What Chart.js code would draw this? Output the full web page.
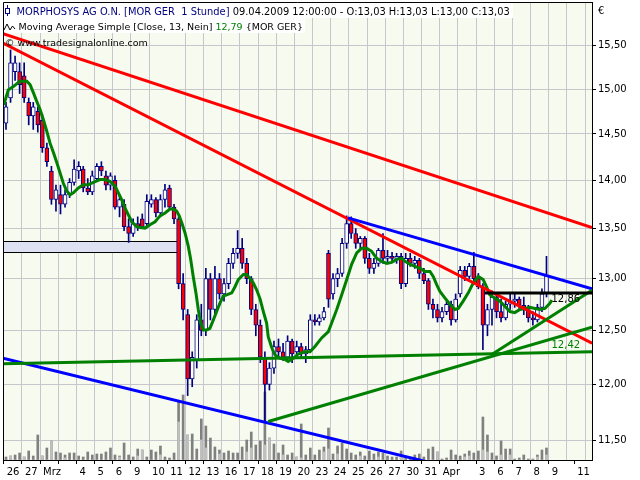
<!DOCTYPE html>
<html><head><meta charset="utf-8">
<script src="https://cdn.jsdelivr.net/npm/chart.js@4/dist/chart.umd.min.js"></script>
<style>html,body{margin:0;padding:0;background:#fff;}canvas{display:block;}</style>
</head><body>
<canvas id="c" width="640" height="480"></canvas>
<script>
// ---------- axis (trading days) ----------
const dayTickPos = [0,1,2,3,4,5,6,7,8,9,10,11,12,13,14,15,16,17,18,19,20,21,22,23,24,25,26,27,28,29,30,31,32,31.4];
const dayLabels  = ['26','27','Mrz','','4','5','6','9','10','11','12','13','16','17','18','19','20','23','24','25','26','27','30','31','Apr','','3','6','7','8','9','','','11'];
const priceTicks = [11.5,12.0,12.5,13.0,13.5,14.0,14.5,15.0,15.5];
const BARS_PER_DAY = 4;

// ---------- hourly candles (MOR GER) ----------
const open  = [14.62,14.90,15.20,15.20,15.15,14.85,14.70,14.75,14.65,14.35,14.10,13.80,13.85,13.75,13.85,13.98,14.10,14.12,13.92,13.88,
               14.02,14.15,14.05,13.95,14.00,13.72,13.75,13.52,13.45,13.55,13.60,13.55,13.75,13.80,13.66,13.80,13.92,13.72,13.60,12.95,
               12.65,12.05,12.22,12.60,12.50,13.00,12.70,13.00,12.85,12.95,13.15,13.25,13.30,13.15,13.00,12.70,12.55,12.25,12.00,12.15,
               12.35,12.30,12.25,12.40,12.30,12.35,12.28,12.32,12.60,12.58,12.62,13.25,12.85,13.00,13.05,13.35,13.55,13.45,13.35,13.40,
               13.20,13.10,13.15,13.28,13.20,13.22,13.20,13.22,12.95,13.20,13.15,13.18,13.05,12.98,12.75,12.70,12.62,12.68,12.75,12.60,
               12.85,13.08,13.02,13.12,13.00,12.92,12.55,12.70,12.82,12.68,12.62,12.75,12.78,12.80,12.74,12.70,12.62,12.60,12.72,12.85];
const high  = [14.85,15.45,15.38,15.30,15.30,14.90,14.85,14.80,14.72,14.40,14.15,13.95,13.95,13.90,14.02,14.22,14.20,14.15,14.02,14.10,
               14.18,14.20,14.10,14.08,14.05,13.85,13.80,13.60,13.60,13.62,13.65,13.85,13.85,13.82,13.85,13.96,13.95,13.75,13.62,13.05,
               12.70,12.30,12.65,12.75,13.10,13.05,13.12,13.05,13.00,13.20,13.30,13.48,13.40,13.20,13.02,12.75,12.60,12.30,12.20,12.40,
               12.42,12.38,12.45,12.42,12.40,12.38,12.35,12.65,12.65,12.65,12.72,13.28,13.05,13.10,13.40,13.63,13.62,13.50,13.42,13.42,
               13.25,13.20,13.30,13.45,13.28,13.26,13.25,13.25,13.25,13.25,13.22,13.20,13.10,13.00,12.80,12.75,12.72,12.78,12.78,12.85,
               13.12,13.12,13.15,13.26,13.05,12.95,12.75,12.88,12.85,12.80,12.78,12.85,12.85,12.82,12.82,12.74,12.68,12.75,12.90,13.22];
const low   = [14.55,14.85,15.10,14.95,14.85,14.60,14.55,14.52,14.30,14.15,13.75,13.68,13.65,13.72,13.82,13.95,14.02,13.88,13.85,13.85,
               14.00,14.05,13.90,13.90,13.70,13.62,13.48,13.36,13.42,13.48,13.50,13.52,13.72,13.62,13.62,13.72,13.70,13.55,12.90,12.60,
               11.90,11.98,12.15,12.45,12.45,12.60,12.65,12.80,12.78,12.90,13.10,13.20,13.10,12.95,12.65,12.45,12.20,11.67,11.95,12.10,
               12.25,12.22,12.22,12.20,12.25,12.25,12.20,12.30,12.55,12.55,12.60,12.72,12.80,12.92,13.02,13.30,13.40,13.30,13.30,13.15,
               13.05,13.05,13.12,13.15,13.15,13.17,13.15,12.90,12.92,13.12,13.10,13.00,12.95,12.70,12.62,12.58,12.58,12.65,12.55,12.58,
               12.82,12.98,13.00,12.95,12.90,12.32,12.45,12.55,12.62,12.58,12.60,12.70,12.72,12.70,12.65,12.58,12.55,12.58,12.68,12.82];
const close = [14.80,15.30,15.30,15.05,14.90,14.70,14.80,14.60,14.35,14.20,13.80,13.90,13.75,13.85,13.98,14.12,14.15,13.92,13.88,14.05,
               14.15,14.10,13.95,14.05,13.72,13.80,13.52,13.45,13.55,13.52,13.52,13.78,13.80,13.66,13.80,13.90,13.72,13.60,12.95,12.70,
               12.05,12.25,12.60,12.50,13.00,12.70,13.00,12.85,12.95,13.15,13.25,13.30,13.15,13.00,12.70,12.55,12.25,12.00,12.15,12.35,
               12.30,12.25,12.40,12.28,12.35,12.28,12.32,12.60,12.58,12.62,12.68,12.80,13.00,13.05,13.35,13.55,13.45,13.35,13.40,13.20,
               13.10,13.15,13.28,13.20,13.22,13.20,13.22,12.95,13.20,13.15,13.18,13.05,12.98,12.75,12.70,12.62,12.68,12.75,12.60,12.80,
               13.08,13.02,13.12,13.00,12.92,12.55,12.70,12.82,12.68,12.62,12.75,12.78,12.80,12.74,12.70,12.62,12.60,12.72,12.85,13.03];
// volume (thousand shares): total and light (lower) part
const volTotal = [3,4,5,7,3,9,4,25,4,12, 19,8,7,5,7,7,4,3,8,5, 6,6,8,12,5,4,17,5,3,11, 10,3,10,8,14,3,2,7,59,65,
                  25,26,11,41,34,22,13,10,7,9, 7,7,13,20,28,15,19,68,22,16, 7,15,5,7,3,36,5,12,5,10, 13,32,6,14,17,11,7,5,8,4,
                  9,6,8,7,4,3,3,9,3,2, 5,6,3,11,13,8,1,2,10,5, 4,6,9,7,9,43,25,7,4,19, 11,11,1,2,5,1,1,5,10,12];
const volLight = [0,4,0,0,3,0,0,0,4,0, 19,0,0,2,0,0,0,0,0,0, 0,0,0,0,0,3,0,0,0,4, 10,0,0,0,5,0,0,0,38,0,
                  25,0,0,20,12,0,0,6,0,0, 0,0,0,8,12,0,0,15,22,0, 0,5,0,0,3,2,0,0,0,0, 8,11,0,6,0,0,0,0,4,0,
                  0,0,3,0,0,0,0,3,0,0, 0,0,0,0,0,8,0,0,0,0, 0,3,4,0,0,10,8,0,0,5, 0,5,0,0,0,0,0,3,0,5];

// ---------- Moving Average Simple [Close, 13] ----------
const smaDay = [0,0.25,0.53,0.90,1.27,1.45,1.63,1.82,2.0,2.18,2.37,2.55,2.73,2.92,3.10,3.28,3.47,3.65,3.83,4.11,
  4.38,4.66,4.93,5.30,5.57,5.85,6.13,6.31,6.49,6.68,6.86,7.05,7.32,7.50,7.78,8.05,8.33,8.60,8.88,9.15,
  9.33,9.52,9.66,9.80,9.98,10.16,10.29,10.43,10.58,10.71,10.84,10.99,11.17,11.35,11.54,11.72,11.90,12.09,12.27,12.55,
  12.73,12.91,13.19,13.37,13.56,13.74,13.92,14.11,14.29,14.47,14.56,14.75,14.93,15.21,15.48,15.66,15.94,16.21,16.58,16.86,
  17.13,17.50,17.87,18.05,18.33,18.60,18.88,19.15,19.43,19.70,19.98,20.25,20.53,20.80,21.08,21.35,21.63,21.91,22.09,22.37,
  22.64,22.92,23.19,23.46,23.64,23.83,24.01,24.29,24.56,24.84,25.02,25.29,25.57,25.84,26.12,26.39,26.57,26.76,27.03,27.31,
  27.59,27.86,28.13,28.41,28.69,28.96,29.24,29.51,29.79,30.06,30.17];
const smaVal = [14.82,14.99,15.03,15.09,15.09,15.05,14.96,14.86,14.77,14.66,14.53,14.40,14.30,14.19,14.08,13.97,13.89,13.85,13.87,13.92,
  13.955,13.955,13.98,14.01,14.01,13.99,13.94,13.87,13.80,13.71,13.64,13.57,13.52,13.51,13.505,13.54,13.57,13.63,13.66,13.70,
  13.70,13.68,13.63,13.56,13.455,13.32,13.19,13.02,12.86,12.70,12.57,12.505,12.505,12.52,12.60,12.68,12.76,12.83,12.84,12.86,
  12.92,12.99,13.04,13.04,13.0,12.955,12.89,12.80,12.68,12.57,12.44,12.34,12.27,12.24,12.23,12.21,12.24,12.28,12.30,12.30,
  12.35,12.43,12.49,12.57,12.70,12.84,12.99,13.14,13.255,13.30,13.30,13.27,13.20,13.17,13.15,13.16,13.19,13.20,13.17,13.14,
  13.12,13.10,13.07,13.07,13.02,12.94,12.875,12.81,12.75,12.70,12.71,12.78,12.86,12.955,13.02,12.99,12.92,12.84,12.81,12.78,
  12.73,12.68,12.67,12.70,12.71,12.72,12.71,12.70,12.71,12.76,12.79];

// ---------- drawn trendlines: [day, price] endpoints ----------
const redUpper   = [[-0.04,15.64],[32.38,13.51]];
const redLower   = [[-0.04,15.53],[32.38,12.38]];
const blueUpper  = [[18.95,13.61],[32.38,12.90]];
const blueLower  = [[-0.04,12.24],[32.38,10.98]];
const greenFlat  = [[-0.04,12.19],[32.38,12.30]];
const greenRise  = [[14.56,11.67],[32.38,12.53]];
const greenSteep = [[26.82,12.27],[32.38,12.885]];
const blackLevel = [[26.49,12.86],[32.38,12.86]];
const levelLabels = [[12.86,'12,86','#000000'],[12.42,'12,42','#008000']];
const zoneBox = {d0:-0.04, d1:9.59, p0:13.26, p1:13.37};

const X_MIN = -0.04, X_MAX = 32.38, Y_MIN = 11.335, Y_MAX = 16.02, VOL_MAX = 458;
const NAVY = '#000080', PLOT_BG = '#f7faef', GRID = '#c6c6cc';

const barX = open.map((_, i) => Math.floor(i / BARS_PER_DAY) + ((i % BARS_PER_DAY) + 0.5) / BARS_PER_DAY);
const wickData = barX.map((x, i) => ({x, y: [low[i], high[i]]}));
const bodyData = barX.map((x, i) => ({x, y: [Math.min(open[i], close[i]), Math.max(open[i], close[i])]}));
const bodyColors = open.map((o, i) => close[i] < o ? '#ff0000' : '#ffffff');
const volData = barX.map((x, i) => ({x, y: volTotal[i]}));
const volLightData = barX.map((x, i) => ({x, y: volLight[i]}));
const smaData = smaDay.map((d, i) => ({x: d, y: smaVal[i]}));
const seg = s => s.map(p => ({x: p[0], y: p[1]}));

function lineDs(pts, color, order) {
  return {type: 'line', data: seg(pts), borderColor: color, borderWidth: 3, pointRadius: 0,
          fill: false, tension: 0, order, yAxisID: 'y', xAxisID: 'x'};
}

function drawRuns(ctx, runs, x, yBase, targetW) {
  const fam = '"DejaVu Sans", sans-serif';
  ctx.font = '11px ' + fam;
  const w = ctx.measureText(runs.map(r => r[0]).join('')).width;
  const size = 11 * targetW / w;
  ctx.font = size.toFixed(2) + 'px ' + fam;
  ctx.textBaseline = 'alphabetic'; ctx.textAlign = 'left';
  let cx = x;
  for (const [t, c] of runs) { ctx.fillStyle = c; ctx.fillText(t, cx, yBase); cx += ctx.measureText(t).width; }
}

const decor = {
  id: 'decor',
  beforeDraw(chart) {
    const {ctx, chartArea: a} = chart;
    ctx.save();
    ctx.fillStyle = '#ffffff'; ctx.fillRect(0, 0, chart.width, chart.height);
    ctx.fillStyle = PLOT_BG; ctx.fillRect(a.left, a.top, a.right - a.left, a.bottom - a.top);
    ctx.restore();
  },
  beforeDatasetsDraw(chart) {
    const {ctx} = chart, xs = chart.scales.x, ys = chart.scales.y;
    ctx.save();
    ctx.fillStyle = '#ffffff';
    ctx.fillRect(3, 3, 510, 15);
    ctx.fillRect(3, 18, 302, 15);
    const x0 = xs.getPixelForValue(zoneBox.d0), x1 = xs.getPixelForValue(zoneBox.d1);
    const y0 = ys.getPixelForValue(zoneBox.p1), y1 = ys.getPixelForValue(zoneBox.p0);
    ctx.fillStyle = '#dde1f1';
    ctx.fillRect(x0, Math.round(y0), x1 - x0, Math.round(y1) - Math.round(y0));
    ctx.strokeStyle = '#000'; ctx.lineWidth = 1;
    ctx.strokeRect(Math.round(x0) + 0.5, Math.round(y0) + 0.5, Math.round(x1 - x0), Math.round(y1) - Math.round(y0));
    ctx.restore();
  },
  afterDatasetsDraw(chart) {
    const {ctx, chartArea: a} = chart, xs = chart.scales.x, ys = chart.scales.y;
    ctx.save();
    ctx.strokeStyle = '#000'; ctx.lineWidth = 1;
    ctx.beginPath();
    ctx.moveTo(a.left + 0.5, a.bottom); ctx.lineTo(a.left + 0.5, a.top + 0.5); ctx.lineTo(a.right, a.top + 0.5);
    ctx.stroke();
    ctx.strokeStyle = NAVY; ctx.lineWidth = 1;
    ctx.beginPath(); ctx.moveTo(7.5, 5); ctx.lineTo(7.5, 16); ctx.stroke();
    ctx.fillStyle = '#fff'; ctx.fillRect(5.5, 8.5, 4, 5); ctx.strokeRect(5.5, 8.5, 4, 5);
    drawRuns(ctx, [['MORPHOSYS AG O.N. [MOR GER  1 Stunde]', NAVY],
                   [' 09.04.2009 12:00:00 - O:13,03 H:13,03 L:13,00 C:13,03', '#000']], 16.5, 15, 493.5);
    ctx.strokeStyle = '#000'; ctx.lineWidth = 1;
    ctx.beginPath(); ctx.moveTo(4, 30); ctx.lineTo(7, 24); ctx.lineTo(10, 30); ctx.lineTo(12.5, 26); ctx.lineTo(15, 29); ctx.stroke();
    drawRuns(ctx, [['Moving Average Simple [Close, 13, Nein] ', '#000'], ['12,79', '#008000'], [' {MOR GER}', '#000']], 18.5, 30, 284.5);
    drawRuns(ctx, [['\u00A9 www.tradesignalonline.com', '#000']], 5, 45.5, 143);
    ctx.font = '10px "DejaVu Sans", sans-serif'; ctx.fillStyle = '#000'; ctx.textBaseline = 'middle';
    ctx.fillText('\u20AC', 598, 11);
    const lx = xs.getPixelForValue(barX[barX.length - 1]) + 5;
    ctx.textBaseline = 'top';
    for (const [v, t, c] of levelLabels) {
      ctx.fillStyle = c; ctx.fillText(t, lx, ys.getPixelForValue(v) + 1.5);
    }
    ctx.restore();
  }
};

const axisFont = {family: '"DejaVu Sans", sans-serif', size: 10};

new Chart(document.getElementById('c'), {
  data: {
    datasets: [
      lineDs(blackLevel, '#000000', 0),
      lineDs(greenSteep, '#008000', 1),
      lineDs(greenRise, '#008000', 1),
      lineDs(greenFlat, '#008000', 1),
      lineDs(blueLower, '#0000ff', 2),
      lineDs(blueUpper, '#0000ff', 2),
      lineDs(redLower, '#ff0000', 2),
      lineDs(redUpper, '#ff0000', 2),
      {type: 'line', data: smaData, borderColor: '#008000', borderWidth: 3, pointRadius: 0, fill: false, tension: 0, order: 4},
      {type: 'bar', data: bodyData, backgroundColor: bodyColors, borderColor: NAVY, borderWidth: 1, borderSkipped: false,
       grouped: false, barThickness: 4, maxBarThickness: 4, minBarLength: 1, order: 5, yAxisID: 'y'},
      {type: 'bar', data: wickData, backgroundColor: NAVY, borderWidth: 0, grouped: false, barThickness: 1, maxBarThickness: 1, order: 6, yAxisID: 'y'},
      {type: 'bar', data: volLightData, backgroundColor: '#c0c0c0', borderWidth: 0, grouped: false, barThickness: 2, maxBarThickness: 2, order: 7, yAxisID: 'yv'},
      {type: 'bar', data: volData, backgroundColor: '#808080', borderWidth: 0, grouped: false, barThickness: 2, maxBarThickness: 2, order: 8, yAxisID: 'yv'}
    ]
  },
  options: {
    responsive: false, animation: false, events: [],
    layout: {padding: {left: 3, top: 2, right: 0, bottom: 0}},
    plugins: {legend: {display: false}, tooltip: {enabled: false}},
    scales: {
      x: {
        type: 'linear', position: 'bottom', min: X_MIN, max: X_MAX, offset: false,
        afterBuildTicks: s => { s.ticks = dayTickPos.map(v => ({value: v})); },
        afterFit: s => { s.height = 20; s.paddingLeft = 0; s.paddingRight = 0; },
        ticks: {autoSkip: false, maxRotation: 0, minRotation: 0, align: 'start', labelOffset: 3, padding: 2,
                color: '#000', font: axisFont, callback: (v, i) => dayLabels[i]},
        grid: {offset: false,
               color: c => (c.tick && dayLabels[c.index] === '11') ? 'rgba(0,0,0,0)' : GRID,
               tickColor: c => (c.tick && (c.tick.value === 31 || c.tick.value === 32)) ? 'rgba(0,0,0,0)' : '#000',
               tickLength: 4, lineWidth: 1},
        border: {display: true, color: '#000', width: 1}
      },
      y: {
        type: 'logarithmic', position: 'right', min: Y_MIN, max: Y_MAX, offset: false,
        afterBuildTicks: s => { s.ticks = priceTicks.map(v => ({value: v})); },
        afterFit: s => { s.width = 48; s.paddingTop = 0; s.paddingBottom = 0; },
        ticks: {color: '#000', font: axisFont, padding: 2, callback: v => Number(v).toFixed(2).replace('.', ',')},
        grid: {color: GRID, tickColor: '#000', tickLength: 4, lineWidth: 1},
        border: {display: true, color: '#000', width: 1}
      },
      yv: {type: 'linear', display: false, min: 0, max: VOL_MAX, offset: false}
    }
  },
  plugins: [decor]
});
</script>
</body></html>
